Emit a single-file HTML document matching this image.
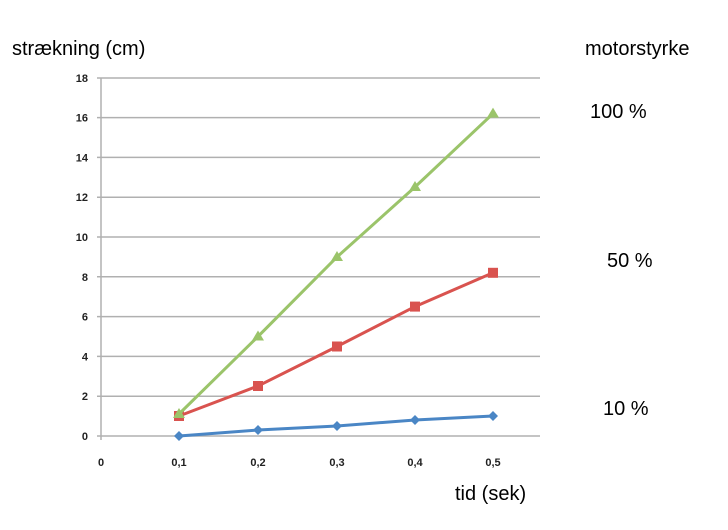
<!DOCTYPE html>
<html><head><style>body{margin:0;background:#fff}</style></head><body>
<svg width="728" height="525" xmlns="http://www.w3.org/2000/svg" font-family="Liberation Sans, sans-serif">
<rect width="728" height="525" fill="#fff"/>
<g stroke="#b0b0b0" stroke-width="1.5">
<line x1="97" y1="78" x2="540" y2="78"/><line x1="97" y1="117.6" x2="540" y2="117.6"/>
<line x1="97" y1="157.4" x2="540" y2="157.4"/><line x1="97" y1="197.2" x2="540" y2="197.2"/>
<line x1="97" y1="237" x2="540" y2="237"/><line x1="97" y1="276.8" x2="540" y2="276.8"/>
<line x1="97" y1="316.6" x2="540" y2="316.6"/><line x1="97" y1="356.4" x2="540" y2="356.4"/>
<line x1="97" y1="396.2" x2="540" y2="396.2"/><line x1="97" y1="436" x2="540" y2="436"/>
<line x1="101" y1="78" x2="101" y2="440"/>
</g>
<g font-size="11" font-weight="bold" fill="#222" text-anchor="end">
<text x="88" y="82">18</text><text x="88" y="121.6">16</text><text x="88" y="161.4">14</text>
<text x="88" y="201.2">12</text><text x="88" y="241">10</text><text x="88" y="280.8">8</text>
<text x="88" y="320.6">6</text><text x="88" y="360.4">4</text><text x="88" y="400.2">2</text><text x="88" y="440">0</text>
</g>
<g font-size="11" font-weight="bold" fill="#222" text-anchor="middle">
<text x="101" y="466">0</text><text x="179" y="466">0,1</text><text x="258" y="466">0,2</text>
<text x="337" y="466">0,3</text><text x="415" y="466">0,4</text><text x="493" y="466">0,5</text>
</g>
<polyline points="179,436 258,430 337,426 415,420 493,416" fill="none" stroke="#4a86c5" stroke-width="3"/>
<g fill="#4a86c5">
<path d="M179,431 l5,5 -5,5 -5,-5z"/><path d="M258,425 l5,5 -5,5 -5,-5z"/><path d="M337,421 l5,5 -5,5 -5,-5z"/><path d="M415,415 l5,5 -5,5 -5,-5z"/><path d="M493,411 l5,5 -5,5 -5,-5z"/>
</g>
<polyline points="179,416 258,386 337,346.5 415,306.6 493,272.8" fill="none" stroke="#d9534f" stroke-width="3"/>
<g fill="#d9534f">
<rect x="174" y="411" width="10" height="10"/><rect x="253" y="381" width="10" height="10"/><rect x="332" y="341.5" width="10" height="10"/><rect x="410" y="301.6" width="10" height="10"/><rect x="488" y="267.8" width="10" height="10"/>
</g>
<polyline points="179,414 258,336.5 337,257 415,187 493,113.6" fill="none" stroke="#9bc46a" stroke-width="3"/>
<g fill="#9bc46a">
<path d="M179,408 l6,10 h-12z"/><path d="M258,330.5 l6,10 h-12z"/><path d="M337,251 l6,10 h-12z"/><path d="M415,181 l6,10 h-12z"/><path d="M493,107.6 l6,10 h-12z"/>
</g>
<g font-size="20" fill="#000">
<text x="12" y="55">strækning (cm)</text>
<text x="585" y="55">motorstyrke</text>
<text x="590" y="118">100 %</text>
<text x="607" y="267">50 %</text>
<text x="603" y="415">10 %</text>
<text x="455" y="500">tid (sek)</text>
</g>
</svg>
</body></html>
